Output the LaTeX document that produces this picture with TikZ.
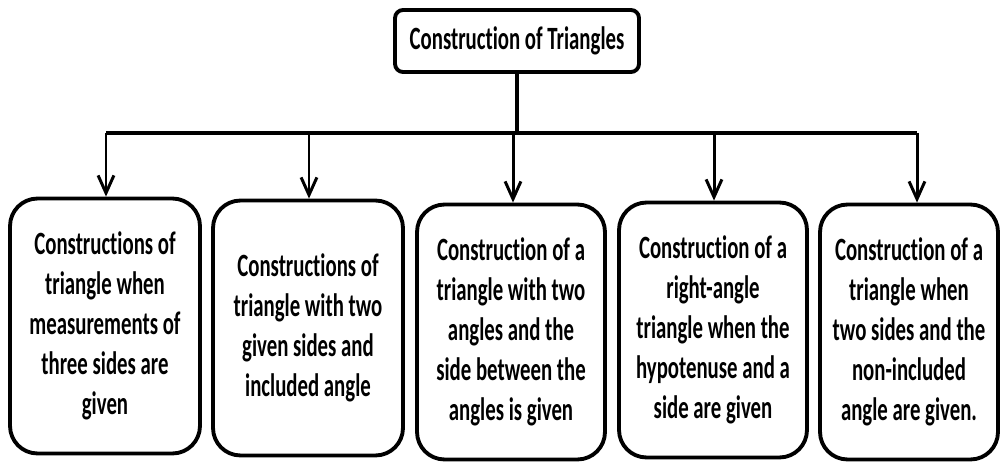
\documentclass[tikz,border=0pt]{standalone}
\usepackage{fontspec}
\setmainfont{Carlito}[FakeStretch=0.64,Ligatures=CommonOff]
\usetikzlibrary{arrows.meta}

\begin{document}
\begin{tikzpicture}[x=0.02cm,y=-0.02cm,
    box/.style={draw,line width=2.2pt,rounded corners=0.55cm,align=center,
      minimum height=5.1cm,inner sep=0pt,
      font=\bfseries\fontsize{18.5}{22.8}\selectfont},
    root/.style={draw,line width=2.2pt,rounded corners=0.16cm,
      minimum width=4.88cm,minimum height=1.24cm,
      font=\bfseries\fontsize{18.5}{22}\selectfont},
    bus/.style={line width=1.9pt},
    link/.style={line width=1.7pt,-{Straight Barb[length=10pt,width=9pt,line width=1.7pt]}}]
  \useasboundingbox (0,0) rectangle (1000,462);
  \node[root] (top) at (517,41) {Construction of Triangles};
  \node[box,minimum width=3.8cm] (b1) at (105,326) {Constructions of\\triangle when\\measurements of\\three sides are\\given};
  \node[box,minimum width=3.8cm] (b2) at (308,328) {Constructions of\\triangle with two\\given sides and\\included angle};
  \node[box,minimum width=3.76cm] (b3) at (511,332) {Construction of a\\triangle with two\\angles and the\\side between the\\angles is given};
  \node[box,minimum width=3.76cm] (b4) at (713,330) {Construction of a\\right-angle\\triangle when the\\hypotenuse and a\\side are given};
  \node[box,minimum width=3.56cm] (b5) at (909,332) {Construction of a\\triangle when\\two sides and the\\non-included\\angle are given.};
  % bus line and drops
  \coordinate (d1) at (106,133);
  \coordinate (d2) at (309,133);
  \coordinate (d3) at (513,133);
  \coordinate (d4) at (714,133);
  \coordinate (d5) at (917,133);
  \draw[bus] (top.south) -- (top.south |- d3);
  \draw[bus] (d1) -- (d5);
  \draw[link] (d1) -- (d1 |- b1.north);
  \draw[link] (d2) -- (d2 |- b2.north);
  \draw[link] (d3) -- (d3 |- b3.north);
  \draw[link] (d4) -- (d4 |- b4.north);
  \draw[link] (d5) -- (d5 |- b5.north);
\end{tikzpicture}
\end{document}
